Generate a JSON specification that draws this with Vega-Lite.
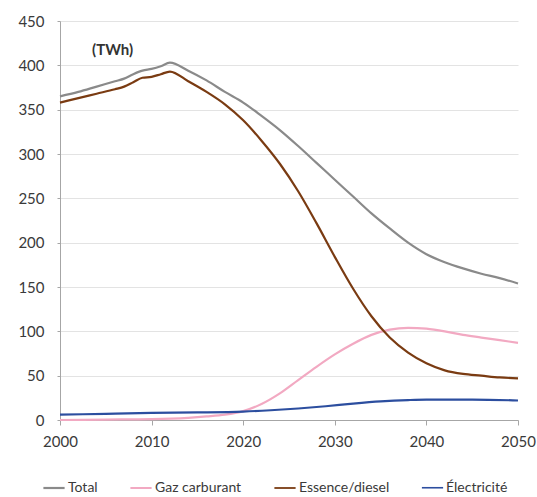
{
  "$schema": "https://vega.github.io/schema/vega-lite/v6.json",
  "width": 458,
  "height": 399,
  "autosize": {"type": "none"},
  "padding": {"left": 60, "top": 21, "right": 19, "bottom": 77},
  "background": "white",
  "config": {
    "view": {"stroke": null},
    "font": "Lato",
    "axis": {"labelFont": "Lato", "labelFontSize": 15, "labelColor": "#3a3a3a", "domainColor": "#a6a6a6", "tickColor": "#a6a6a6", "gridColor": "#e3e3e3", "titleFontSize": 0}
  },
  "layer": [
    {
      "data": {
        "values": [
          {"year": 2000, "series": "Total", "value": 365},
          {"year": 2002, "series": "Total", "value": 370},
          {"year": 2004, "series": "Total", "value": 376},
          {"year": 2006, "series": "Total", "value": 382},
          {"year": 2007, "series": "Total", "value": 385},
          {"year": 2008, "series": "Total", "value": 390},
          {"year": 2009, "series": "Total", "value": 394},
          {"year": 2010, "series": "Total", "value": 396},
          {"year": 2011, "series": "Total", "value": 399},
          {"year": 2012, "series": "Total", "value": 403},
          {"year": 2014, "series": "Total", "value": 394},
          {"year": 2016, "series": "Total", "value": 383},
          {"year": 2018, "series": "Total", "value": 370},
          {"year": 2020, "series": "Total", "value": 358},
          {"year": 2022, "series": "Total", "value": 343},
          {"year": 2024, "series": "Total", "value": 327},
          {"year": 2026, "series": "Total", "value": 309},
          {"year": 2028, "series": "Total", "value": 290},
          {"year": 2030, "series": "Total", "value": 271},
          {"year": 2032, "series": "Total", "value": 252},
          {"year": 2034, "series": "Total", "value": 233},
          {"year": 2036, "series": "Total", "value": 216},
          {"year": 2038, "series": "Total", "value": 200},
          {"year": 2040, "series": "Total", "value": 187},
          {"year": 2042, "series": "Total", "value": 178},
          {"year": 2044, "series": "Total", "value": 171},
          {"year": 2046, "series": "Total", "value": 165},
          {"year": 2048, "series": "Total", "value": 160},
          {"year": 2050, "series": "Total", "value": 154},
          {"year": 2000, "series": "Gaz carburant", "value": 0},
          {"year": 2005, "series": "Gaz carburant", "value": 0.5},
          {"year": 2010, "series": "Gaz carburant", "value": 1},
          {"year": 2014, "series": "Gaz carburant", "value": 2.5},
          {"year": 2016, "series": "Gaz carburant", "value": 4},
          {"year": 2018, "series": "Gaz carburant", "value": 6},
          {"year": 2020, "series": "Gaz carburant", "value": 10},
          {"year": 2022, "series": "Gaz carburant", "value": 18},
          {"year": 2024, "series": "Gaz carburant", "value": 30},
          {"year": 2026, "series": "Gaz carburant", "value": 45},
          {"year": 2028, "series": "Gaz carburant", "value": 60},
          {"year": 2030, "series": "Gaz carburant", "value": 74},
          {"year": 2032, "series": "Gaz carburant", "value": 86},
          {"year": 2034, "series": "Gaz carburant", "value": 96},
          {"year": 2036, "series": "Gaz carburant", "value": 102},
          {"year": 2038, "series": "Gaz carburant", "value": 104},
          {"year": 2040, "series": "Gaz carburant", "value": 103},
          {"year": 2042, "series": "Gaz carburant", "value": 100},
          {"year": 2044, "series": "Gaz carburant", "value": 96},
          {"year": 2046, "series": "Gaz carburant", "value": 93},
          {"year": 2048, "series": "Gaz carburant", "value": 90},
          {"year": 2050, "series": "Gaz carburant", "value": 87},
          {"year": 2000, "series": "Essence/diesel", "value": 358},
          {"year": 2002, "series": "Essence/diesel", "value": 363},
          {"year": 2004, "series": "Essence/diesel", "value": 368},
          {"year": 2006, "series": "Essence/diesel", "value": 373},
          {"year": 2007, "series": "Essence/diesel", "value": 376},
          {"year": 2008, "series": "Essence/diesel", "value": 381},
          {"year": 2009, "series": "Essence/diesel", "value": 386},
          {"year": 2010, "series": "Essence/diesel", "value": 387},
          {"year": 2011, "series": "Essence/diesel", "value": 390},
          {"year": 2012, "series": "Essence/diesel", "value": 393},
          {"year": 2014, "series": "Essence/diesel", "value": 382},
          {"year": 2016, "series": "Essence/diesel", "value": 370},
          {"year": 2018, "series": "Essence/diesel", "value": 356},
          {"year": 2020, "series": "Essence/diesel", "value": 338},
          {"year": 2022, "series": "Essence/diesel", "value": 315},
          {"year": 2024, "series": "Essence/diesel", "value": 289},
          {"year": 2026, "series": "Essence/diesel", "value": 258},
          {"year": 2028, "series": "Essence/diesel", "value": 222},
          {"year": 2030, "series": "Essence/diesel", "value": 184},
          {"year": 2032, "series": "Essence/diesel", "value": 148},
          {"year": 2034, "series": "Essence/diesel", "value": 117},
          {"year": 2036, "series": "Essence/diesel", "value": 93},
          {"year": 2038, "series": "Essence/diesel", "value": 76},
          {"year": 2040, "series": "Essence/diesel", "value": 64},
          {"year": 2042, "series": "Essence/diesel", "value": 56},
          {"year": 2044, "series": "Essence/diesel", "value": 52},
          {"year": 2046, "series": "Essence/diesel", "value": 50},
          {"year": 2048, "series": "Essence/diesel", "value": 48},
          {"year": 2050, "series": "Essence/diesel", "value": 47},
          {"year": 2000, "series": "Électricité", "value": 6},
          {"year": 2005, "series": "Électricité", "value": 7},
          {"year": 2010, "series": "Électricité", "value": 8},
          {"year": 2015, "series": "Électricité", "value": 8.5},
          {"year": 2020, "series": "Électricité", "value": 9.5},
          {"year": 2023, "series": "Électricité", "value": 11},
          {"year": 2026, "series": "Électricité", "value": 13},
          {"year": 2029, "series": "Électricité", "value": 15.5},
          {"year": 2032, "series": "Électricité", "value": 18.5},
          {"year": 2035, "series": "Électricité", "value": 21},
          {"year": 2038, "series": "Électricité", "value": 22.5},
          {"year": 2040, "series": "Électricité", "value": 23},
          {"year": 2045, "series": "Électricité", "value": 23},
          {"year": 2050, "series": "Électricité", "value": 22}
        ]
      },
      "mark": {"type": "line", "interpolate": "monotone", "strokeWidth": 2.2},
      "encoding": {
        "x": {
          "field": "year", "type": "quantitative",
          "scale": {"domain": [2000, 2050], "nice": false},
          "axis": {"title": null, "values": [2000, 2010, 2020, 2030, 2040, 2050], "format": "d", "grid": false, "tickSize": 5, "labelPadding": 9, "labelFlush": false}
        },
        "y": {
          "field": "value", "type": "quantitative",
          "scale": {"domain": [0, 450], "nice": false},
          "axis": {"title": null, "values": [0, 50, 100, 150, 200, 250, 300, 350, 400, 450], "tickSize": 3, "labelPadding": 13, "grid": true}
        },
        "color": {
          "field": "series", "type": "nominal",
          "scale": {
            "domain": ["Total", "Gaz carburant", "Essence/diesel", "Électricité"],
            "range": ["#8a8a8a", "#f2a9c2", "#7a3b12", "#2c4e9f"]
          },
          "legend": {
            "title": null, "orient": "none", "direction": "horizontal",
            "legendX": -18, "legendY": 455,
            "symbolType": "stroke", "symbolSize": 450, "symbolStrokeWidth": 2.5,
            "labelFont": "Lato", "labelFontSize": 14, "labelColor": "#3a3a3a",
            "columnPadding": 28, "labelOffset": 2
          }
        },
        "strokeWidth": {
          "field": "series", "type": "nominal",
          "scale": {"domain": ["Total", "Gaz carburant", "Essence/diesel", "Électricité"], "range": [2.2, 1.6, 2.2, 2.6]},
          "legend": null
        }
      }
    },
    {
      "data": {"values": [{"year": 2003.5, "value": 417, "label": "(TWh)"}]},
      "mark": {"type": "text", "align": "left", "baseline": "middle", "fontWeight": "bold", "fontSize": 15, "font": "Lato", "color": "#333333"},
      "encoding": {
        "x": {"field": "year", "type": "quantitative"},
        "y": {"field": "value", "type": "quantitative"},
        "text": {"field": "label"}
      }
    }
  ]
}
